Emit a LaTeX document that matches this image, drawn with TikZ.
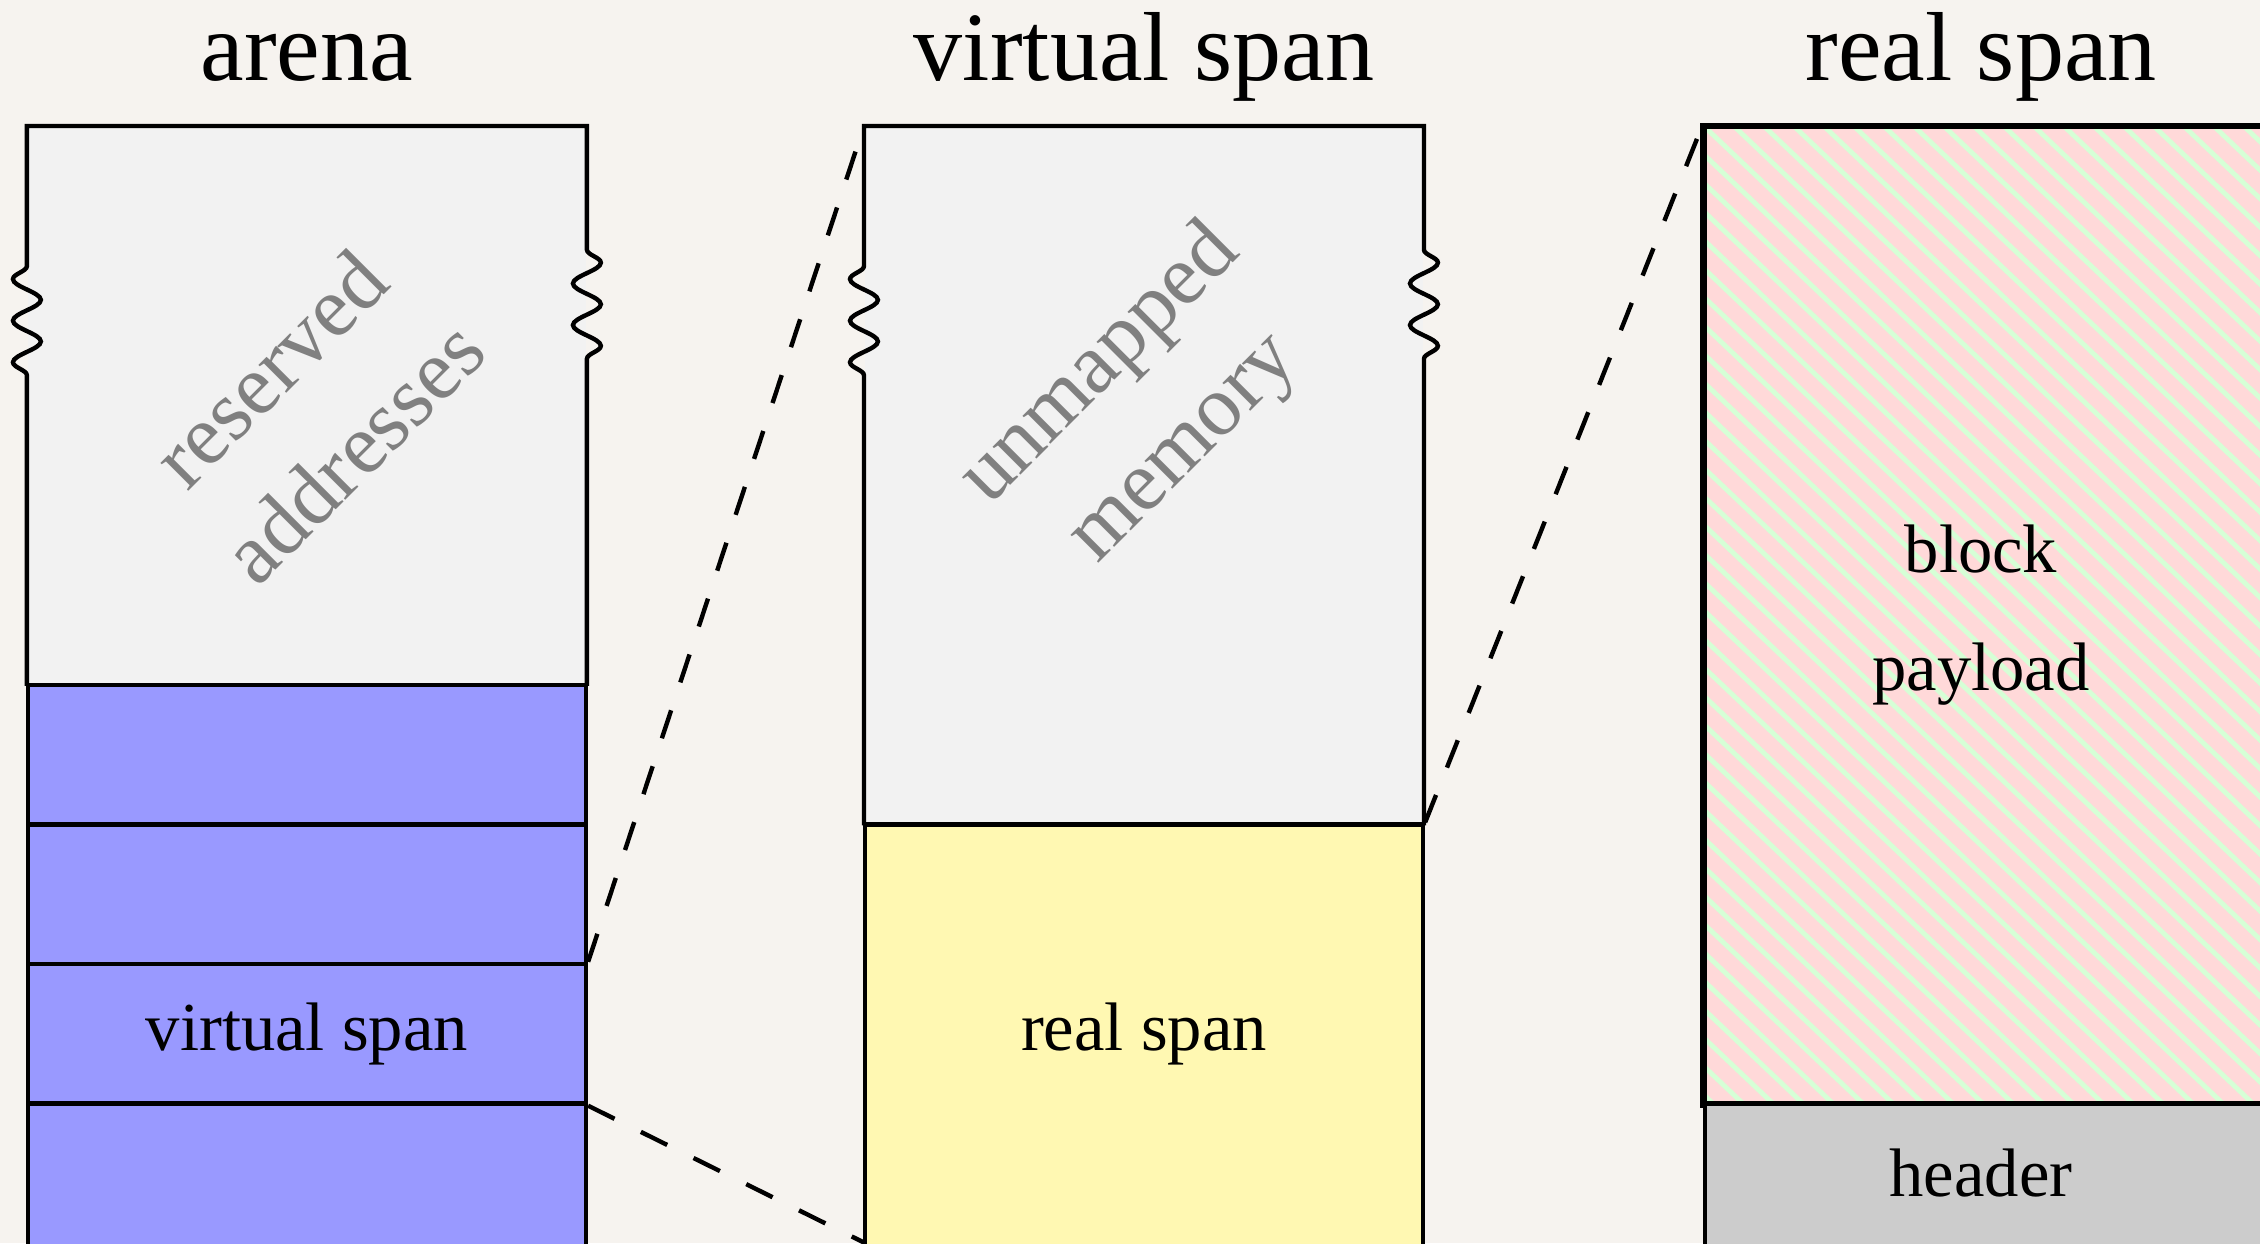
\documentclass[tikz,border=0pt]{standalone}
\usepackage{fontspec}
\setmainfont{Liberation Serif}
\usetikzlibrary{positioning, decorations.pathmorphing}

\definecolor{paper}{HTML}{F6F3EF}
\definecolor{reservedgray}{HTML}{F2F2F2}
\definecolor{spanblue}{HTML}{9999FF}
\definecolor{realyellow}{HTML}{FFF8B2}
\definecolor{payloadpink}{HTML}{FFD9D9}
\definecolor{stripegreen}{HTML}{D6FFD6}
\definecolor{headergray}{HTML}{CCCCCC}
\definecolor{fadedtext}{HTML}{808080}

\begin{document}
\begin{tikzpicture}[
    cell/.style={draw, line width=0.9pt, minimum width=4cm, minimum height=1cm, inner sep=0pt, font=\fontsize{14}{17}\selectfont},
    plain/.style={minimum width=4cm, inner sep=0pt},
    title/.style={anchor=base, font=\fontsize{20}{24}\selectfont},
    faded/.style={text=fadedtext, rotate=45, align=center, font=\fontsize{17.5}{24}\selectfont},
    zoomline/.style={line width=0.9pt, dash pattern=on 6pt off 6pt},
    wavy/.style={decorate, decoration={snake, amplitude=0.1cm, segment length=0.298cm}},
    outline/.style={line width=0.9pt}
]
\fill[paper] (0,0) rectangle (16.2,8.91);
\useasboundingbox (0,0) rectangle (16.2,8.91);
\coordinate (wavetop) at (0,7.12);
\coordinate (wavebot) at (0,6.22);

% arena
\node[title] (arenatitle) at (2.2,8.33) {arena};
\node[plain, fill=reservedgray, minimum height=4cm] (reserved) at (2.2,6) {};
\node[cell, fill=spanblue] (arow4) at (2.2,3.5) {};
\node[cell, fill=spanblue] (arow3) at (2.2,2.5) {};
\node[cell, fill=spanblue] (vspan) at (2.2,1.5) {virtual span};
\node[cell, fill=spanblue, minimum height=1.2cm] (arow1) at (2.2,0.4) {};
\node[faded] (reservedlabel) at (2.23,5.97) {reserved\\addresses};

% virtual span
\node[title] (vspantitle) at (8.2,8.33) {virtual span};
\node[plain, fill=reservedgray, minimum height=5cm] (unmapped) at (8.2,5.5) {};
\node[cell, fill=realyellow, minimum height=3.2cm] (realspan) at (8.2,1.4) {};
\node[font=\fontsize{14}{17}\selectfont] (reallabel) at (8.2,1.5) {real span};
\node[faded] (unmappedlabel) at (8.19,5.99) {unmapped\\memory};
\coordinate (vbottom) at (6.2,0);

% wavy edges
\foreach \n in {reserved,unmapped}
    \draw[outline] (\n.south west) -- (\n.west |- wavebot) decorate[wavy]{-- (\n.west |- wavetop)} -- (\n.north west)
        -- (\n.north east) -- (\n.east |- wavetop) decorate[wavy]{-- (\n.east |- wavebot)} -- (\n.south east);

% real span
\node[title] (realtitle) at (14.2,8.33) {real span};
\node[cell, fill=payloadpink, minimum height=7cm, path picture={
    \foreach \k in {-40,...,20}
        \draw[stripegreen, line width=1pt] ([xshift=\k*0.215cm]path picture bounding box.north west) -- ++(8,-7.6);
    }] (payload) at (14.22,4.5) {};
\draw[outline] (payload.south west) rectangle (payload.north east);
\node[font=\fontsize{14}{24}\selectfont, align=center] (payloadlabel) at (14.2,4.5) {block\\payload};
\node[cell, fill=headergray, minimum height=1.2cm] (header) at (14.22,0.4) {};
\node[font=\fontsize{14}{17}\selectfont] (headerlabel) at (14.2,0.5) {header};

% zoom lines
\draw[zoomline] (vspan.north east) -- (unmapped.north west);
\draw[zoomline] (vspan.south east) -- (vbottom);
\draw[zoomline] (realspan.north east) -- (payload.north west);
\end{tikzpicture}
\end{document}
